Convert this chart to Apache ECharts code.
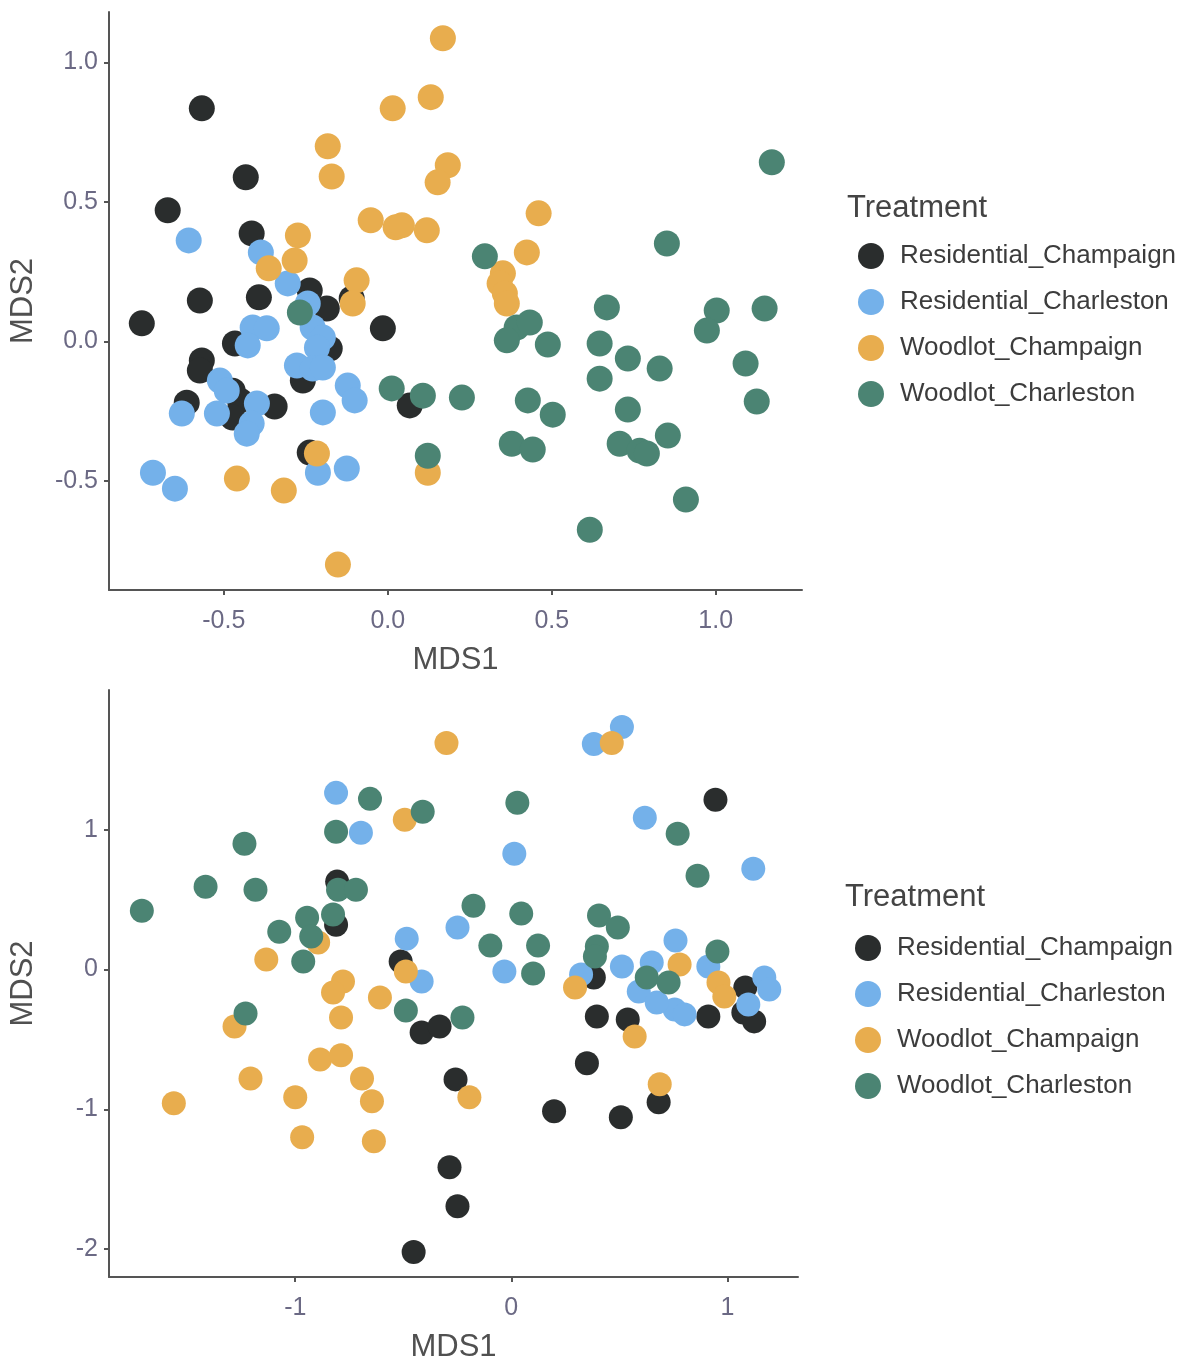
<!DOCTYPE html>
<html>
<head>
<meta charset="utf-8">
<script src="https://cdn.jsdelivr.net/npm/echarts@6/dist/echarts.min.js"></script>
<style>
html,body{margin:0;padding:0;background:#fff;}
#chart{width:1180px;height:1364px;}
</style>
</head>
<body>
<div id="chart"></div>
<script>
// ---------- DATA ----------
const seriesNames = ['Residential_Champaign','Residential_Charleston','Woodlot_Champaign','Woodlot_Charleston'];

// Top panel
const topResChampaign = [[-0.567,0.835],[-0.433,0.588],[-0.671,0.470],[-0.415,0.387],[-0.750,0.065],[-0.573,0.147],[-0.393,0.158],[-0.238,0.183],[-0.186,0.118],[-0.110,0.154],[-0.015,0.047],[-0.466,-0.007],[-0.567,-0.068],[-0.573,-0.104],[-0.177,-0.025],[-0.259,-0.140],[-0.613,-0.219],[-0.473,-0.176],[-0.451,-0.211],[-0.473,-0.272],[-0.345,-0.233],[0.067,-0.229],[-0.238,-0.398]];
const topResCharleston = [[-0.607,0.362],[-0.387,0.319],[-0.305,0.208],[-0.244,0.136],[-0.412,0.050],[-0.369,0.047],[-0.427,-0.014],[-0.229,0.050],[-0.198,0.014],[-0.216,-0.022],[-0.277,-0.086],[-0.229,-0.097],[-0.198,-0.093],[-0.122,-0.158],[-0.101,-0.211],[-0.198,-0.254],[-0.512,-0.140],[-0.491,-0.176],[-0.521,-0.258],[-0.628,-0.258],[-0.399,-0.222],[-0.415,-0.294],[-0.430,-0.330],[-0.213,-0.470],[-0.125,-0.455],[-0.716,-0.470],[-0.649,-0.527]];
const topWoodChampaign = [[0.168,1.086],[0.131,0.875],[0.015,0.835],[-0.183,0.699],[-0.171,0.591],[0.183,0.631],[0.152,0.570],[-0.052,0.434],[0.024,0.409],[0.043,0.416],[0.119,0.398],[0.460,0.459],[0.424,0.319],[-0.274,0.380],[-0.284,0.290],[-0.363,0.262],[-0.095,0.219],[-0.107,0.136],[0.351,0.244],[0.341,0.208],[0.357,0.172],[0.363,0.136],[-0.460,-0.491],[-0.317,-0.534],[-0.152,-0.799],[-0.216,-0.401],[0.122,-0.470]];
const topWoodCharleston = [[1.171,0.642],[0.851,0.351],[0.296,0.305],[0.668,0.122],[1.003,0.111],[1.149,0.118],[0.973,0.039],[0.393,0.050],[0.433,0.068],[0.363,0.004],[0.488,-0.011],[0.646,-0.007],[0.732,-0.061],[0.829,-0.097],[1.091,-0.079],[0.646,-0.133],[0.732,-0.244],[1.125,-0.215],[0.427,-0.211],[0.503,-0.262],[0.378,-0.366],[0.442,-0.387],[0.707,-0.366],[0.768,-0.391],[0.790,-0.401],[0.854,-0.337],[0.909,-0.566],[0.616,-0.674],[0.226,-0.201],[-0.268,0.104],[0.012,-0.168],[0.107,-0.194],[0.122,-0.409]];

// Bottom panel
const botResChampaign = [[0.945,1.214],[-0.806,0.629],[-0.811,0.321],[-0.512,0.057],[-0.415,-0.450],[-0.332,-0.407],[-0.258,-0.786],[-0.286,-1.414],[-0.249,-1.693],[-0.452,-2.021],[0.382,-0.057],[1.083,-0.129],[0.396,-0.336],[0.539,-0.357],[0.912,-0.336],[1.074,-0.307],[1.124,-0.371],[0.350,-0.671],[0.198,-1.014],[0.507,-1.057],[0.682,-0.950]];
const botResCharleston = [[-0.811,1.264],[-0.696,0.979],[-0.484,0.221],[-0.415,-0.086],[-0.249,0.300],[0.512,1.736],[0.382,1.614],[0.618,1.086],[0.014,0.829],[1.120,0.721],[-0.032,-0.014],[0.760,0.207],[0.323,-0.036],[0.512,0.021],[0.650,0.050],[0.912,0.021],[1.171,-0.057],[0.590,-0.157],[0.756,-0.286],[0.802,-0.321],[1.097,-0.250],[1.194,-0.143],[0.673,-0.236]];
const botWoodChampaign = [[-0.300,1.621],[0.465,1.621],[-0.493,1.071],[-1.134,0.071],[-0.894,0.193],[-0.488,-0.014],[-0.779,-0.086],[-0.825,-0.164],[-0.608,-0.200],[-0.788,-0.343],[-1.281,-0.407],[-0.885,-0.643],[-0.788,-0.614],[-0.691,-0.779],[-0.645,-0.943],[-1.207,-0.779],[-1.000,-0.914],[-1.562,-0.957],[-0.968,-1.200],[-0.636,-1.229],[0.779,0.036],[0.295,-0.129],[0.959,-0.093],[0.986,-0.193],[0.571,-0.479],[0.687,-0.821],[-0.194,-0.914]];
const botWoodCharleston = [[-1.710,0.421],[-1.415,0.593],[-1.235,0.900],[-1.184,0.571],[-1.074,0.271],[-0.945,0.371],[-0.926,0.236],[-0.963,0.057],[-0.825,0.393],[-0.802,0.571],[-0.719,0.571],[-0.654,1.221],[-0.811,0.986],[-0.410,1.129],[-1.230,-0.314],[-0.488,-0.293],[-0.226,-0.343],[0.028,1.193],[0.770,0.971],[0.862,0.671],[-0.175,0.457],[0.046,0.400],[-0.097,0.171],[0.124,0.171],[0.101,-0.029],[0.406,0.386],[0.493,0.300],[0.396,0.164],[0.387,0.093],[0.954,0.129],[0.627,-0.057],[0.728,-0.093]];

// Tick labels
const topXTicks = [-0.5, 0.0, 0.5, 1.0];
const topYTicks = [-0.5, 0.0, 0.5, 1.0];
const botXTicks = [-1, 0, 1];
const botYTicks = [-2, -1, 0, 1];

// ---------- STYLE ----------
const colors = ['#2a2d2d', '#74b1ea', '#e8ad4e', '#4b8473'];
const FONT = 'Liberation Sans, Arial, sans-serif';
const axisLineStyle = {color: '#555', width: 2};
const tickLabelColor = '#6b6984';

function mkX(gridIndex, min, max, ticks, fmt) {
  return {
    type: 'value', gridIndex, min, max,
    name: 'MDS1', nameLocation: 'middle', nameGap: 55,
    nameTextStyle: {fontFamily: FONT, fontSize: 31, color: '#505050'},
    axisLine: {show: true, onZero: false, lineStyle: axisLineStyle},
    axisTick: {show: true, length: 5, lineStyle: {color: '#555', width: 2}, customValues: ticks},
    axisLabel: {show: true, customValues: ticks, formatter: fmt, fontFamily: FONT, fontSize: 25, color: tickLabelColor, margin: 19},
    splitLine: {show: false}
  };
}
function mkY(gridIndex, min, max, ticks, fmt) {
  return {
    type: 'value', gridIndex, min, max,
    name: 'MDS2', nameLocation: 'middle', nameGap: 70, nameRotate: 90,
    nameTextStyle: {fontFamily: FONT, fontSize: 31, color: '#505050'},
    axisLine: {show: true, onZero: false, lineStyle: axisLineStyle},
    axisTick: {show: true, length: 5, lineStyle: {color: '#555', width: 2}, customValues: ticks},
    axisLabel: {show: true, customValues: ticks, formatter: fmt, fontFamily: FONT, fontSize: 25, color: tickLabelColor, margin: 11},
    splitLine: {show: false}
  };
}
const fmt1 = v => (Math.abs(v) < 1e-9 ? 0 : v).toFixed(1);
const fmt0 = v => String(Math.round(v));

const topData = [topResChampaign, topResCharleston, topWoodChampaign, topWoodCharleston];
const botData = [botResChampaign, botResCharleston, botWoodChampaign, botWoodCharleston];

const series = [];
topData.forEach((d, i) => series.push({
  type: 'scatter', name: seriesNames[i], xAxisIndex: 0, yAxisIndex: 0, data: d,
  symbol: 'circle', symbolSize: 26, itemStyle: {color: colors[i], opacity: 1}
}));
botData.forEach((d, i) => series.push({
  type: 'scatter', name: seriesNames[i], xAxisIndex: 1, yAxisIndex: 1, data: d,
  symbol: 'circle', symbolSize: 24, itemStyle: {color: colors[i], opacity: 1}
}));

function mkLegend(top, left) {
  return {
    orient: 'vertical', left, top, padding: 0,
    data: seriesNames, icon: 'circle',
    itemWidth: 48, itemHeight: 26, itemGap: 20,
    textStyle: {fontFamily: FONT, fontSize: 26, color: '#3c3c3c'},
    selectedMode: false
  };
}

const option = {
  animation: false,
  backgroundColor: '#fff',
  color: colors,
  title: [
    {text: 'Treatment', left: 847, top: 193, textStyle: {fontFamily: FONT, fontSize: 31, fontWeight: 'normal', color: '#444'}, padding: 0},
    {text: 'Treatment', left: 845, top: 882, textStyle: {fontFamily: FONT, fontSize: 31, fontWeight: 'normal', color: '#444'}, padding: 0}
  ],
  legend: [mkLegend(243, 858), mkLegend(935, 855)],
  grid: [
    {left: 109, top: 12, width: 693, height: 578, containLabel: false},
    {left: 106, top: 690, width: 692, height: 588, containLabel: false}
  ],
  xAxis: [
    mkX(0, -0.85, 1.263, topXTicks, fmt1),
    mkX(1, -1.862, 1.327, botXTicks, fmt0)
  ],
  yAxis: [
    mkY(0, -0.89, 1.18, topYTicks, fmt1),
    mkY(1, -2.2, 2.0, botYTicks, fmt0)
  ],
  series
};

const chart = echarts.init(document.getElementById('chart'), null, {renderer: 'canvas'});
chart.setOption(option);
</script>
</body>
</html>
